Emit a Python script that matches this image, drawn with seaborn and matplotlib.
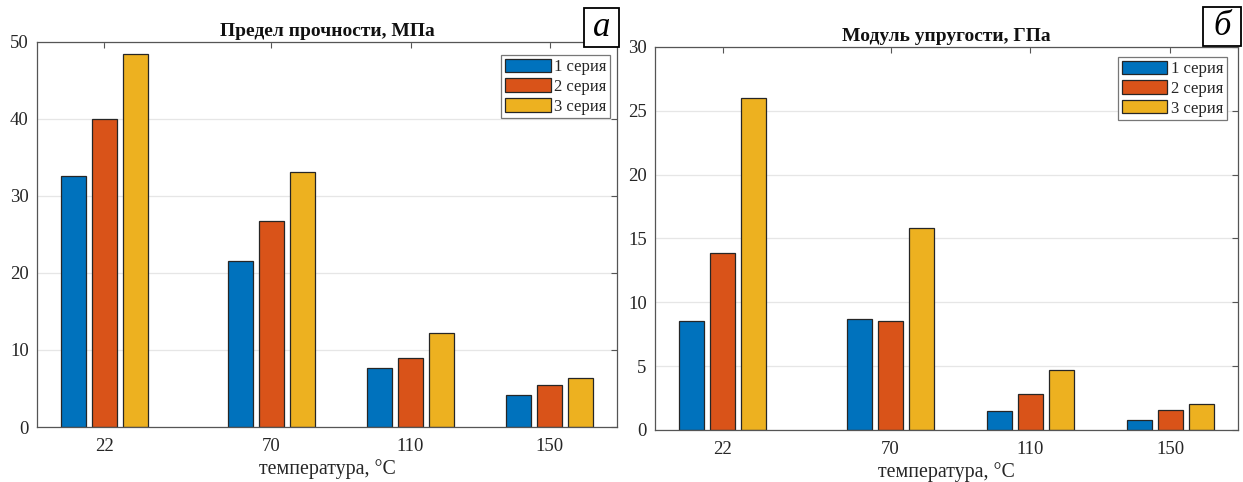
import matplotlib
matplotlib.use("Agg")
import matplotlib.pyplot as plt
import pandas as pd
import seaborn as sns
from matplotlib.patches import Patch, Rectangle

# Test temperatures (°C) and series names
temperatures = [22, 70, 110, 150]
series_names = ["1 серия", "2 серия", "3 серия"]

# Ultimate strength, MPa
strength_s1 = [32.6, 21.5, 7.6, 4.1]
strength_s2 = [40.0, 26.7, 9.0, 5.5]
strength_s3 = [48.5, 33.1, 12.2, 6.3]

# Elastic modulus, GPa
modulus_s1 = [8.5, 8.7, 1.45, 0.75]
modulus_s2 = [13.9, 8.5, 2.85, 1.6]
modulus_s3 = [26.0, 15.8, 4.7, 2.0]

colors = ["#0072BD", "#D95319", "#EDB120"]

sns.set_theme(style="white")
plt.rcParams["font.family"] = ["Liberation Serif", "DejaVu Serif"]

EDGE = "#262626"
SPINE = "#555555"


def long_table(s1, s2, s3):
    rows = []
    for name, vals in zip(series_names, (s1, s2, s3)):
        for t, v in zip(temperatures, vals):
            rows.append({"t": t, "v": v, "series": name})
    return pd.DataFrame(rows)


def draw_panel(ax, df, title, ymax, ystep, legend_anchor):
    sns.barplot(data=df, x="t", y="v", hue="series", hue_order=series_names,
                native_scale=True, width=2 / 3, gap=0.2, palette=colors,
                saturation=1, edgecolor=EDGE, linewidth=0.9, errorbar=None,
                legend=False, ax=ax)
    ax.set_xlim(2.67, 169.33)
    ax.set_ylim(0, ymax)
    ax.set_xticks(temperatures)
    ax.set_xticklabels([str(t) for t in temperatures])
    ax.set_yticks(list(range(0, ymax + 1, ystep)))
    ax.yaxis.grid(True, color="#e6e6e6", linewidth=0.9)
    ax.xaxis.grid(False)
    ax.set_axisbelow(True)
    for sp in ax.spines.values():
        sp.set_visible(True)
        sp.set_color(SPINE)
        sp.set_linewidth(0.9)
    ax.tick_params(direction="in", top=True, right=True, length=4,
                   width=0.8, color=SPINE, labelsize=13.5,
                   labelcolor="#262626")
    ax.tick_params(axis="x", pad=8)
    ax.tick_params(axis="y", pad=6)
    ax.set_title(title, fontsize=14, fontweight="bold", pad=4.3,
                 color="#111111")
    ax.set_xlabel("температура, °С", fontsize=14.3, color="#262626",
                  labelpad=3)
    ax.set_ylabel("")
    handles = [Patch(facecolor=c, edgecolor=EDGE, linewidth=0.9, label=n)
               for c, n in zip(colors, series_names)]
    leg = ax.legend(handles=handles, loc="upper right",
                    bbox_to_anchor=legend_anchor, frameon=True,
                    fancybox=False, framealpha=1, edgecolor="#777777",
                    fontsize=12, handlelength=2.75, handleheight=0.85,
                    handletextpad=0.2, borderpad=0.22, labelspacing=0.2,
                    borderaxespad=0.0)
    leg.get_frame().set_linewidth(0.9)


fig = plt.figure(figsize=(12.43, 4.82), dpi=100)
ax1 = fig.add_axes([0.0298, 0.1141, 0.4666, 0.7988])
ax2 = fig.add_axes([0.5270, 0.1079, 0.4690, 0.7946])

draw_panel(ax1, long_table(strength_s1, strength_s2, strength_s3),
           "Предел прочности, МПа", 50, 10, (0.988, 0.966))
draw_panel(ax2, long_table(modulus_s1, modulus_s2, modulus_s3),
           "Модуль упругости, ГПа", 30, 5, (0.981, 0.974))

W, H = 1243, 482


def panel_tag(letter, x0, x1, y0, y1):
    rect = Rectangle((x0 / W, 1 - y1 / H), (x1 - x0) / W, (y1 - y0) / H,
                     transform=fig.transFigure, facecolor="white",
                     edgecolor="black", linewidth=1.3, zorder=10)
    fig.patches.append(rect)
    fig.text((x0 + x1) / 2 / W, 1 - (y0 + y1) / 2 / H, letter,
             ha="center", va="center", fontsize=25, fontstyle="italic",
             color="black", zorder=11)


panel_tag("а", 584, 619, 8, 47)
panel_tag("б", 1203, 1241, 7, 46)

fig.savefig("out.png", dpi=100)
